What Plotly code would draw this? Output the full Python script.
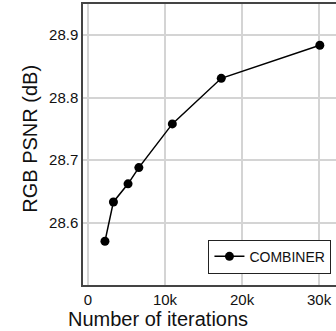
import plotly.graph_objects as go

iterations = [2200, 3300, 5200, 6600, 10950, 17300, 30100]
psnr = [28.570, 28.633, 28.662, 28.688, 28.758, 28.831, 28.884]
series_name = "COMBINER"
x_tickvals = [0, 10000, 20000, 30000]
x_ticktext = ["0", "10k", "20k", "30k"]
y_tickvals = [28.6, 28.7, 28.8, 28.9]
y_ticktext = ["28.6", "28.7", "28.8", "28.9"]
x_title = "Number of iterations"
y_title = "RGB PSNR (dB)"

fig = go.Figure()
fig.add_trace(go.Scatter(
    x=iterations, y=psnr, mode="lines+markers", name=series_name,
    line=dict(color="black", width=1.5),
    marker=dict(color="black", size=9, symbol="circle"),
    showlegend=True,
))

font = "Liberation Sans, Arial, sans-serif"
fig.update_layout(
    width=336, height=331,
    margin=dict(l=83, r=0, t=4, b=46),
    paper_bgcolor="white", plot_bgcolor="white",
    font=dict(family=font, color="#111111", size=15),
    showlegend=True,
    legend=dict(
        x=0.982, y=0.040, xanchor="right", yanchor="bottom",
        bgcolor="white", bordercolor="#222222", borderwidth=1,
        font=dict(size=14, family=font, color="#111111"),
        itemwidth=30, tracegroupgap=0,
    ),
    xaxis=dict(
        range=[-650, 32200], tickvals=x_tickvals, ticktext=x_ticktext,
        showgrid=True, gridcolor="#d4d4d4", gridwidth=1.5,
        showline=True, linecolor="#444444", linewidth=1.5, mirror=True,
        zeroline=False, ticks="",
        tickfont=dict(size=15),
    ),
    yaxis=dict(
        range=[28.5, 28.95], tickvals=y_tickvals, ticktext=y_ticktext,
        showgrid=True, gridcolor="#d4d4d4", gridwidth=1.5,
        showline=True, linecolor="#444444", linewidth=1.5,
        zeroline=False, ticks="",
        tickfont=dict(size=15),
    ),
    annotations=[
        dict(text=x_title, xref="paper", yref="paper", x=0.298, y=-0.122,
             xanchor="center", yanchor="middle", showarrow=False,
             font=dict(size=20, family=font, color="#111111")),
        dict(text=y_title, xref="paper", yref="paper", x=-0.21, y=0.52,
             xanchor="center", yanchor="middle", showarrow=False, textangle=-90,
             font=dict(size=20, family=font, color="#111111")),
    ],
)

fig.write_html("out.html")
